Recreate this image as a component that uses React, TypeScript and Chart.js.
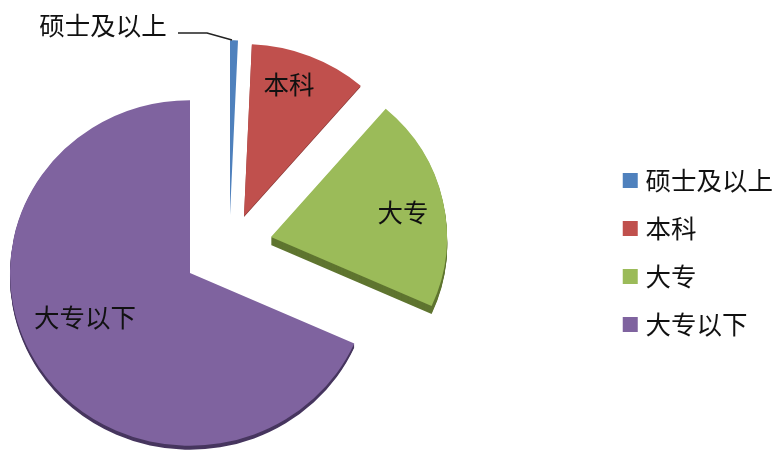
import React, { useEffect, useRef } from "react";
import { Chart, registerables } from "chart.js";

Chart.register(...registerables);

const categories = ["硕士及以上", "本科", "大专", "大专以下"];
const shares = [0.7, 10.6, 20.4, 68.3];
const sliceColors = ["#4F81BD", "#C0504D", "#9BBB59", "#7F639F"];
const sideColors = ["#3A6087", "#8A3A38", "#5F7530", "#47365F"];
const sliceAnchors = [
  [230, 215],
  [244, 216],
  [271, 237],
  [190, 273],
];
const sliceRadii = [182, 179, 176, 180];
const sideDepths = [0, 1, 8, 4];
const labelCenters = [
  [103, 25],
  [289, 84],
  [403, 212],
  [85, 317],
];
const leaderLine = [
  [178, 33],
  [207, 33],
  [232, 40],
];
const FONT = '25.5px "Noto Sans CJK SC"';
const TILT = 0.96;
const LEGEND_SHIFT = 7;

const tiltedPie = {
  id: "tiltedPie",
  afterLayout(chart: any) {
    chart.legend.left += LEGEND_SHIFT;
    chart.legend.right += LEGEND_SHIFT;
  },
  beforeDatasetsDraw(chart: any) {
    const ctx = chart.ctx;
    const arcs = chart.getDatasetMeta(0).data;
    arcs.forEach((el: any, i: number) => {
      const [ax, ay] = sliceAnchors[i];
      el.x = 0;
      el.y = 0;
      el.outerRadius = sliceRadii[i];
      const base = el.options;
      const side = Object.create(base);
      side.backgroundColor = sideColors[i];
      for (let d = sideDepths[i]; d >= 0; d--) {
        ctx.save();
        ctx.translate(ax, ay + d);
        ctx.scale(1, TILT);
        el.options = d === 0 ? base : side;
        el.draw(ctx);
        ctx.restore();
      }
      el.options = base;
    });

    ctx.save();
    ctx.strokeStyle = "#222222";
    ctx.lineWidth = 1.6;
    ctx.beginPath();
    leaderLine.forEach(([x, y], i) => (i ? ctx.lineTo(x, y) : ctx.moveTo(x, y)));
    ctx.stroke();
    ctx.fillStyle = "#111111";
    ctx.font = FONT;
    ctx.textAlign = "center";
    ctx.textBaseline = "middle";
    categories.forEach((c, i) => ctx.fillText(c, labelCenters[i][0], labelCenters[i][1]));
    ctx.restore();
    return false;
  },
};

export default function App() {
  const ref = useRef<HTMLCanvasElement>(null);
  useEffect(() => {
    const chart = new Chart(ref.current!, {
      type: "pie",
      data: {
        labels: categories,
        datasets: [
          {
            data: shares,
            backgroundColor: sliceColors,
            borderWidth: 0,
            radius: 177,
          },
        ],
      },
      options: {
        responsive: false,
        animation: false,
        layout: { padding: { top: 50, right: 0 } },
        plugins: {
          tooltip: { enabled: false },
          legend: {
            position: "right",
            labels: {
              font: { family: "Noto Sans CJK SC", size: 25.5 },
              color: "#111111",
              padding: 22.5,
              boxWidth: 5,
              boxHeight: 15,
              usePointStyle: true,
              pointStyle: "rect",
            },
          },
        },
      },
      plugins: [tiltedPie],
    } as any);
    return () => chart.destroy();
  }, []);
  return (
    <div style={{ position: "fixed", left: 0, top: 0, width: 776, height: 455, background: "#fff" }}>
      <canvas ref={ref} width={776} height={455} style={{ display: "block" }} />
    </div>
  );
}
